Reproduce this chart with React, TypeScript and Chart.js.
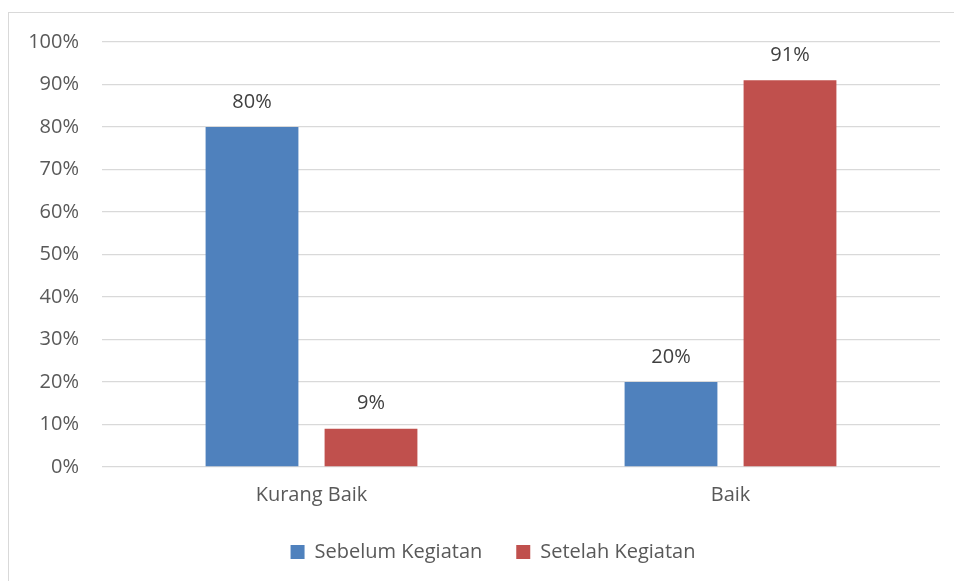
import React, { useEffect, useRef } from "react";
import { Chart, registerables } from "chart.js";

Chart.register(...registerables);

const categories = ["Kurang Baik", "Baik"];
const seriesNames = ["Sebelum Kegiatan", "Setelah Kegiatan"];
const sebelum = [0.8, 0.2];
const setelah = [0.09, 0.91];
const seriesColors = ["#4F81BD", "#C0504D"];
const yMin = 0;
const yMax = 1;
const yStep = 0.1;

const FONT = "'Open Sans', 'Noto Sans', sans-serif";

const pct = (v: number) => `${Math.round(v * 100)}%`;

const dataLabelPlugin = {
  id: "dataLabels",
  afterDatasetsDraw(chart: any) {
    const ctx = chart.ctx;
    ctx.save();
    ctx.font = `20px ${FONT}`;
    ctx.fillStyle = "#404040";
    ctx.textAlign = "center";
    ctx.textBaseline = "middle";
    chart.data.datasets.forEach((ds: any, di: number) => {
      const meta = chart.getDatasetMeta(di);
      meta.data.forEach((bar: any, i: number) => {
        ctx.fillText(pct(ds.data[i]), bar.x, bar.y - 25);
      });
    });
    ctx.restore();
  },
};

export default function App() {
  const ref = useRef<HTMLCanvasElement | null>(null);

  useEffect(() => {
    document.documentElement.style.overflow = "hidden";
    document.body.style.overflow = "hidden";
    if (!ref.current) return;
    const chart = new Chart(ref.current, {
      type: "bar",
      data: {
        labels: categories,
        datasets: [
          {
            label: seriesNames[0],
            data: sebelum,
            backgroundColor: seriesColors[0],
            categoryPercentage: 0.568,
            barPercentage: 0.78,
          },
          {
            label: seriesNames[1],
            data: setelah,
            backgroundColor: seriesColors[1],
            categoryPercentage: 0.568,
            barPercentage: 0.78,
          },
        ],
      },
      options: {
        animation: false,
        responsive: true,
        maintainAspectRatio: false,
        layout: { padding: { left: 0, right: 0, top: 29, bottom: 9 } },
        plugins: {
          tooltip: { enabled: false },
          legend: {
            position: "bottom",
            labels: {
              boxWidth: 14,
              boxHeight: 14,
              padding: 34,
              color: "#595959",
              font: { family: FONT, size: 20 },
            },
          },
        },
        scales: {
          x: {
            grid: { display: false, drawTicks: false },
            border: { display: false },
            ticks: {
              color: "#595959",
              font: { family: FONT, size: 20 },
              padding: 16,
            },
            afterFit: (s: any) => {
              s.height = 41;
            },
          },
          y: {
            min: yMin,
            max: yMax,
            grid: { color: "#D9D9D9", lineWidth: 1.3, drawTicks: false },
            border: { display: false },
            ticks: {
              stepSize: yStep,
              color: "#595959",
              font: { family: FONT, size: 20 },
              padding: 23,
              callback: (v: any) => pct(Number(v)),
            },
            afterFit: (s: any) => {
              s.width = 93;
              s.paddingTop = 12;
              s.paddingBottom = 12;
            },
          },
          yRight: {
            type: "linear",
            position: "right",
            min: yMin,
            max: yMax,
            grid: { display: false, drawTicks: false },
            border: { display: false },
            ticks: { display: false },
            afterFit: (s: any) => {
              s.width = 37;
            },
          },
        },
      },
      plugins: [dataLabelPlugin],
    });
    return () => chart.destroy();
  }, []);

  return (
    <div
      style={{
        position: "absolute",
        left: 8,
        top: 12,
        borderTop: "1px solid #D9D9D9",
        borderLeft: "1px solid #D9D9D9",
        width: 945,
        height: 568,
        overflow: "hidden",
        background: "#fff",
      }}
    >
      <div style={{ position: "relative", width: 968, height: 568 }}>
        <canvas ref={ref} />
      </div>
    </div>
  );
}
